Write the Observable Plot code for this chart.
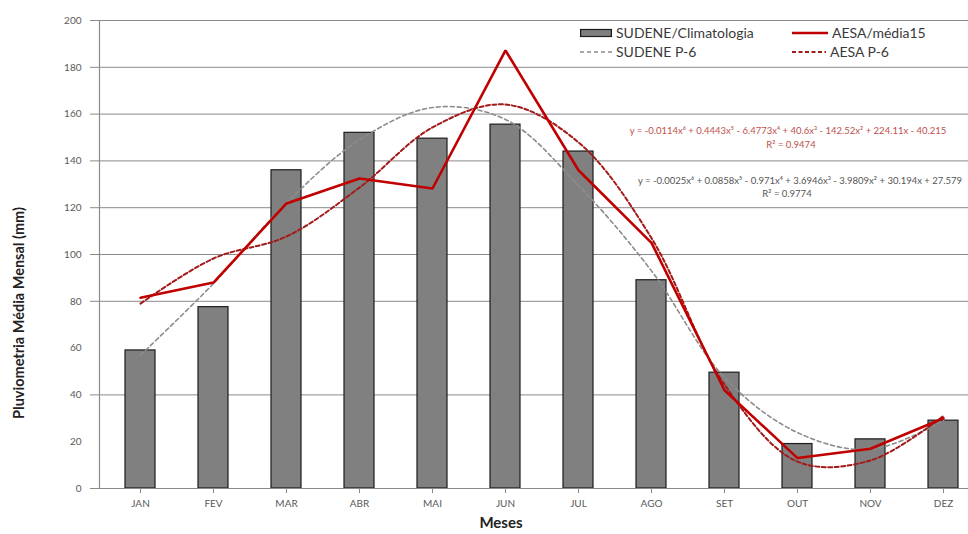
<!DOCTYPE html>
<html>
<head>
<meta charset="utf-8">
<script src="https://cdn.jsdelivr.net/npm/d3@7"></script>
<script src="https://cdn.jsdelivr.net/npm/@observablehq/plot@0.6"></script>
<style>
  html, body { margin: 0; padding: 0; background: #fff; overflow: hidden; }
  #chart { position: relative; width: 968px; height: 534px; font-family: Lato, "Open Sans", sans-serif; }
  #chart > svg.main { position: absolute; left: 0; top: 0; }
  .abs { position: absolute; white-space: nowrap; }
  .ytitle { left: 18px; top: 313px; transform: translate(-50%, -50%) rotate(-90deg); font-weight: bold; font-size: 14.5px; color: #222; }
  .xtitle { left: 501px; top: 522px; transform: translate(-50%, -50%); font-weight: bold; font-size: 15px; color: #222; }
  .leg { font-size: 14px; color: #3a3a3a; display: flex; align-items: center; line-height: 16px; }
  .leg svg { display: block; margin-right: 4px; }
  .eq { font-size: 9.5px; transform: translate(-50%, -50%); text-align: center; }
  .eq.red { color: #c0504d; }
  .eq.gray { color: #555; }
</style>
</head>
<body>
<div id="chart"></div>
<script>
// Monthly mean rainfall (mm)
const months = ["JAN", "FEV", "MAR", "ABR", "MAI", "JUN", "JUL", "AGO", "SET", "OUT", "NOV", "DEZ"];
const sudeneClimatologia = [59, 77.5, 136, 152, 149.5, 155.5, 144, 89, 49.5, 19, 21, 29];
const aesaMedia15 = [81.5, 88, 121.8, 132.5, 128.2, 187.2, 136, 105, 42, 13, 17, 30];
// 6th-order polynomial trend lines, read at each month
const sudeneP6 = [57, 87.6, 122, 149, 162.8, 157.7, 129.5, 93, 47.4, 23.9, 16.7, 29];
const aesaP6 = [79, 98.3, 107.7, 128.6, 154.3, 164.1, 147.9, 107, 44.4, 11.5, 12, 31];

const yTicks = [0, 20, 40, 60, 80, 100, 120, 140, 160, 180, 200];
const gridValues = [40, 80, 100, 120, 140, 160, 180, 200];
const tickMarkValues = [0, 40, 80, 100, 120, 140, 160, 180, 200];

const seriesNames = ["SUDENE/Climatologia", "AESA/média15", "SUDENE P-6", "AESA P-6"];
const equations = [
  "y = -0.0114x⁶ + 0.4443x⁵ - 6.4773x⁴ + 40.6x³ - 142.52x² + 224.11x - 40.215",
  "R² = 0.9474",
  "y = -0.0025x⁶ + 0.0858x⁵ - 0.971x⁴ + 3.6946x³ - 3.9809x² + 30.194x + 27.579",
  "R² = 0.9774"
];
const yTitle = "Pluviometria Média Mensal (mm)";
const xTitle = "Meses";

const table = months.map((m, i) => ({
  month: m,
  sudene: sudeneClimatologia[i],
  aesa: aesaMedia15[i],
  sudeneP6: sudeneP6[i],
  aesaP6: aesaP6[i]
}));

const gridColor = "#8a8a8a";
const red = "#c00000";
const darkRed = "#a31a1a";
const dashGray = "#8c8c8c";

const plot = Plot.plot({
  width: 968,
  height: 534,
  marginTop: 20,
  marginBottom: 46,
  marginLeft: 99,
  marginRight: -15,
  className: "main",
  style: { fontFamily: "Lato, 'Open Sans', sans-serif", background: "transparent" },
  x: { domain: months, paddingInner: 0.59, paddingOuter: 0.295 },
  y: { domain: [0, 200] },
  marks: [
    Plot.ruleY(gridValues, { stroke: gridColor, strokeWidth: 1 }),
    Plot.barY(table, { x: "month", y: "sudene", fill: "#808080", stroke: "#1c1c1c", strokeWidth: 1.2 }),
    Plot.ruleY([0], { stroke: gridColor, strokeWidth: 1.2 }),
    Plot.frame({ anchor: "left", stroke: gridColor, strokeWidth: 1.2 }),
    Plot.axisY({ ticks: yTicks, tickSize: 0, tickPadding: 18, fontSize: 10, fill: "#595959", label: null }),
    Plot.axisY({ ticks: tickMarkValues, tickSize: 9, tickFormat: () => "", stroke: gridColor, label: null }),
    Plot.axisX({ tickSize: 5, tickPadding: 6, fontSize: 10, fill: "#595959", stroke: gridColor, label: null }),
    Plot.line(table, { x: "month", y: "sudeneP6", curve: "catmull-rom", stroke: dashGray, strokeWidth: 1.6, strokeDasharray: "4,3" }),
    Plot.line(table, { x: "month", y: "aesaP6", curve: "catmull-rom", stroke: darkRed, strokeWidth: 2, strokeDasharray: "4,2.5" }),
    Plot.line(table, { x: "month", y: "aesa", stroke: red, strokeWidth: 2.6, strokeLinejoin: "miter" })
  ]
});
plot.classList.add("main");

const chart = document.getElementById("chart");
chart.appendChild(plot);

function addDiv(cls, text, css) {
  const d = document.createElement("div");
  d.className = "abs " + cls;
  if (text != null) d.textContent = text;
  Object.assign(d.style, css || {});
  chart.appendChild(d);
  return d;
}

addDiv("ytitle", yTitle);
addDiv("xtitle", xTitle);

// Legend
const swatches = [
  `<svg width="32" height="10"><rect x="0.6" y="1.5" width="30.8" height="7" fill="#808080" stroke="#1c1c1c" stroke-width="1.2"/></svg>`,
  `<svg width="36" height="10"><line x1="0" y1="5" x2="36" y2="5" stroke="${red}" stroke-width="2.5"/></svg>`,
  `<svg width="32" height="10"><line x1="0" y1="5" x2="32" y2="5" stroke="${dashGray}" stroke-width="1.6" stroke-dasharray="4,3"/></svg>`,
  `<svg width="34" height="10"><line x1="0" y1="5" x2="34" y2="5" stroke="${darkRed}" stroke-width="2" stroke-dasharray="4,2.5"/></svg>`
];
const legendPos = [
  { left: "580px", top: "25px" },
  { left: "792px", top: "25px" },
  { left: "580px", top: "44px" },
  { left: "792px", top: "44px" }
];
seriesNames.forEach((name, i) => {
  const d = addDiv("leg", null, legendPos[i]);
  d.innerHTML = swatches[i] + "<span></span>";
  d.querySelector("span").textContent = name;
});

// Trend line equations
addDiv("eq red", equations[0], { left: "788px", top: "130px" });
addDiv("eq red", equations[1], { left: "791px", top: "144px" });
addDiv("eq gray", equations[2], { left: "800px", top: "180px" });
addDiv("eq gray", equations[3], { left: "787px", top: "193px" });
</script>
</body>
</html>
